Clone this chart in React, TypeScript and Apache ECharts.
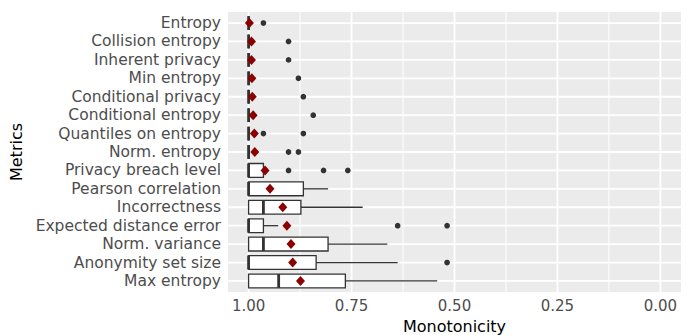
import React, { useEffect, useRef } from "react";
import * as echarts from "echarts";

const metrics = [
  "Entropy",
  "Collision entropy",
  "Inherent privacy",
  "Min entropy",
  "Conditional privacy",
  "Conditional entropy",
  "Quantiles on entropy",
  "Norm. entropy",
  "Privacy breach level",
  "Pearson correlation",
  "Incorrectness",
  "Expected distance error",
  "Norm. variance",
  "Anonymity set size",
  "Max entropy",
];

const lowerWhisker = [1, 1, 1, 1, 1, 1, 1, 1, 0.964, 0.807, 0.723, 0.928, 0.663, 0.638, 0.542];
const lowerQuartile = [1, 1, 1, 1, 1, 1, 1, 1, 0.964, 0.867, 0.873, 0.964, 0.807, 0.836, 0.765];
const medians = [1, 1, 1, 1, 1, 1, 1, 1, 1, 1, 0.964, 1, 0.964, 1, 0.927];
const upperQuartile = [1, 1, 1, 1, 1, 1, 1, 1, 1, 1, 1, 1, 1, 1, 1];
const upperWhisker = [1, 1, 1, 1, 1, 1, 1, 1, 1, 1, 1, 1, 1, 1, 1];
const means = [0.998, 0.993, 0.993, 0.992, 0.991, 0.989, 0.986, 0.985, 0.96, 0.948, 0.917, 0.907, 0.897, 0.893, 0.874];
const outliers: number[][] = [
  [0.964],
  [0.903],
  [0.903],
  [0.879],
  [0.867],
  [0.843],
  [0.964, 0.867],
  [0.903, 0.879],
  [0.903, 0.818, 0.759],
  [],
  [],
  [0.638, 0.518],
  [],
  [0.518],
  [],
];

const xMajorTicks = [0, 0.25, 0.5, 0.75, 1];
const xMinorTicks = [0.125, 0.375, 0.625, 0.875];
const yTicks = metrics.map((_, i) => i);

const FONT = "DejaVu Sans";

export default function App() {
  const ref = useRef<HTMLDivElement>(null);

  useEffect(() => {
    document.body.style.margin = "0";
    if (!ref.current) return;
    const chart = echarts.init(ref.current, undefined, { renderer: "svg" });

    const boxData = metrics.map((_, i) => [
      i,
      lowerWhisker[i],
      lowerQuartile[i],
      medians[i],
      upperQuartile[i],
      upperWhisker[i],
    ]);
    const outlierData: number[][] = [];
    outliers.forEach((arr, i) => arr.forEach((v) => outlierData.push([v, i])));
    const meanData = means.map((v, i) => [v, i]);

    const vLines = (width: number) => (params: any, api: any) => {
      const cs = params.coordSys;
      const p = api.coord([api.value(0), 0]);
      return {
        type: "line",
        shape: { x1: p[0], y1: cs.y, x2: p[0], y2: cs.y + cs.height },
        style: { stroke: "#FFFFFF", lineWidth: width },
        silent: true,
      };
    };
    const hLines = (params: any, api: any) => {
      const cs = params.coordSys;
      const p = api.coord([0, api.value(1)]);
      return {
        type: "line",
        shape: { x1: cs.x, y1: p[1], x2: cs.x + cs.width, y2: p[1] },
        style: { stroke: "#FFFFFF", lineWidth: 1.8 },
        silent: true,
      };
    };

    const boxRender = (params: any, api: any) => {
      const idx = api.value(0);
      const lo = api.value(1);
      const q1 = api.value(2);
      const med = api.value(3);
      const q3 = api.value(4);
      const hi = api.value(5);
      const half = api.size([0, 0.75])[1] / 2;
      const pLo = api.coord([lo, idx]);
      const pQ1 = api.coord([q1, idx]);
      const pMed = api.coord([med, idx]);
      const pQ3 = api.coord([q3, idx]);
      const pHi = api.coord([hi, idx]);
      const cy = pMed[1];
      const stroke = "#333333";
      const children: any[] = [];
      if (Math.abs(pLo[0] - pQ1[0]) > 0.1) {
        children.push({
          type: "line",
          shape: { x1: pQ1[0], y1: cy, x2: pLo[0], y2: cy },
          style: { stroke, lineWidth: 1.3 },
        });
      }
      if (Math.abs(pHi[0] - pQ3[0]) > 0.1) {
        children.push({
          type: "line",
          shape: { x1: pQ3[0], y1: cy, x2: pHi[0], y2: cy },
          style: { stroke, lineWidth: 1.3 },
        });
      }
      const x0 = Math.min(pQ1[0], pQ3[0]);
      const w = Math.abs(pQ1[0] - pQ3[0]);
      children.push({
        type: "rect",
        shape: { x: x0, y: cy - half, width: w, height: 2 * half },
        style: { fill: "#FFFFFF", stroke, lineWidth: 1.3 },
      });
      children.push({
        type: "line",
        shape: { x1: pMed[0], y1: cy - half, x2: pMed[0], y2: cy + half },
        style: { stroke, lineWidth: 2.8 },
      });
      return { type: "group", children };
    };

    chart.setOption({
      animation: false,
      grid: {
        left: 228,
        right: 6,
        top: 12,
        bottom: 43,
        show: true,
        backgroundColor: "#EBEBEB",
        borderWidth: 0,
        containLabel: false,
        outerBoundsMode: "none",
      },
      xAxis: {
        type: "value",
        min: -0.05,
        max: 1.05,
        inverse: true,
        axisLine: { show: false },
        axisTick: { show: false, customValues: xMajorTicks },
        splitLine: { show: false },
        axisLabel: {
          customValues: xMajorTicks,
          formatter: (v: number) => v.toFixed(2),
          color: "#4D4D4D",
          fontSize: 15,
          fontFamily: FONT,
          margin: 6.5,
        },
        name: "Monotonicity",
        nameLocation: "middle",
        nameGap: 15,
        nameTextStyle: { color: "#000000", fontSize: 16, fontFamily: FONT },
      },
      yAxis: {
        type: "value",
        min: -0.6,
        max: 14.6,
        inverse: true,
        axisLine: { show: false },
        axisTick: { show: false, customValues: yTicks },
        splitLine: { show: false },
        axisLabel: {
          customValues: yTicks,
          formatter: (v: number) => metrics[Math.round(v)] ?? "",
          color: "#4D4D4D",
          fontSize: 15.5,
          fontFamily: FONT,
          margin: 7,
        },
        name: "Metrics",
        nameLocation: "middle",
        nameGap: 200,
        nameTextStyle: { color: "#000000", fontSize: 16, fontFamily: FONT },
      },
      series: [
        {
          type: "custom",
          renderItem: vLines(1),
          data: xMinorTicks.map((v) => [v, 0]),
          encode: { x: 0, y: 1 },
          silent: true,
          z: 1,
        },
        {
          type: "custom",
          renderItem: vLines(1.8),
          data: xMajorTicks.map((v) => [v, 0]),
          encode: { x: 0, y: 1 },
          silent: true,
          z: 1,
        },
        {
          type: "custom",
          renderItem: hLines,
          data: yTicks.map((i) => [0.5, i]),
          encode: { x: 0, y: 1 },
          silent: true,
          z: 1,
        },
        {
          type: "custom",
          renderItem: boxRender,
          data: boxData,
          encode: { x: [1, 2, 3, 4, 5], y: 0 },
          z: 2,
        },
        {
          type: "scatter",
          data: outlierData,
          symbol: "circle",
          symbolSize: 5.7,
          itemStyle: { color: "#333333", opacity: 1 },
          z: 3,
        },
        {
          type: "scatter",
          data: meanData,
          symbol: "diamond",
          symbolSize: [9, 10],
          itemStyle: { color: "#8B0000", opacity: 1 },
          z: 4,
        },
      ],
    });

    return () => chart.dispose();
  }, []);

  return <div ref={ref} style={{ width: 687, height: 335 }} />;
}
